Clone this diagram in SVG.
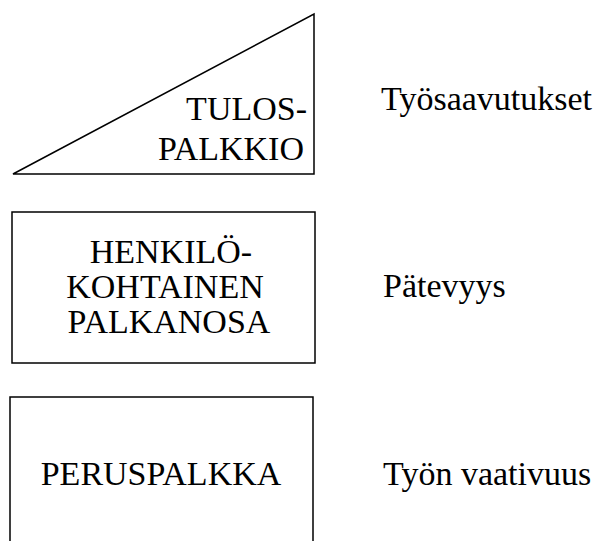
<svg xmlns="http://www.w3.org/2000/svg" width="610" height="541" viewBox="0 0 610 541">
  <style>
    .shape { fill: #ffffff; stroke: #000000; stroke-width: 1.5; }
  </style>
  <rect width="610" height="541" fill="#ffffff"/>

  <!-- top layer: performance bonus wedge -->
  <g id="tulospalkkio">
    <path class="shape" d="M13,174 L314,14 L314,174 Z"/>
    <text x="307" y="120" font-size="34" font-family="'Liberation Serif'" text-anchor="end">TULOS-</text>
    <text x="304" y="160" font-size="34" font-family="'Liberation Serif'" text-anchor="end">PALKKIO</text>
  </g>

  <!-- middle layer: personal pay component -->
  <g id="henkilokohtainen">
    <rect class="shape" x="12" y="212" width="303" height="151"/>
    <text x="171" y="263" font-size="34" font-family="'Liberation Serif'" text-anchor="middle">HENKILÖ-</text>
    <text x="165" y="298" font-size="34" font-family="'Liberation Serif'" text-anchor="middle">KOHTAINEN</text>
    <text x="169" y="333" font-size="34" font-family="'Liberation Serif'" text-anchor="middle">PALKANOSA</text>
  </g>

  <!-- bottom layer: base pay, open at the lower edge -->
  <g id="peruspalkka">
    <path class="shape" fill="none" d="M10,541 L10,397 L313,397 L313,541"/>
    <text x="161" y="485" font-size="34" font-family="'Liberation Serif'" text-anchor="middle">PERUSPALKKA</text>
  </g>

  <!-- criteria for each layer -->
  <g id="kriteerit">
    <text x="381" y="110" font-size="34" font-family="'Liberation Serif'">Työsaavutukset</text>
    <text x="383" y="297" font-size="34" font-family="'Liberation Serif'">Pätevyys</text>
    <text x="383" y="485" font-size="34" font-family="'Liberation Serif'">Työn vaativuus</text>
  </g>
</svg>
